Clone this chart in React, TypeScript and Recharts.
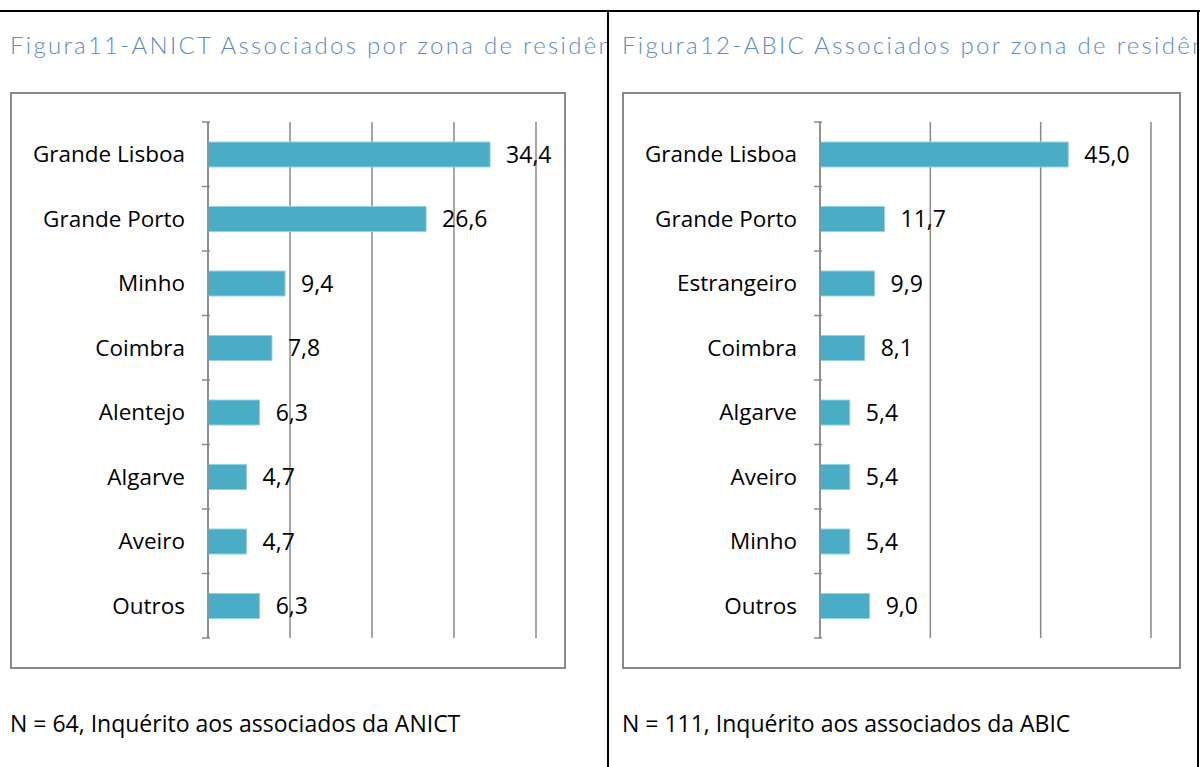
import { BarChart, Bar, XAxis, YAxis, CartesianGrid, LabelList } from 'recharts'

const leftCategories = ['Grande Lisboa', 'Grande Porto', 'Minho', 'Coimbra', 'Alentejo', 'Algarve', 'Aveiro', 'Outros']
const leftValues = [34.4, 26.6, 9.4, 7.8, 6.3, 4.7, 4.7, 6.3]
const leftTicks = [0, 10, 20, 30, 40]

const rightCategories = ['Grande Lisboa', 'Grande Porto', 'Estrangeiro', 'Coimbra', 'Algarve', 'Aveiro', 'Minho', 'Outros']
const rightValues = [45.0, 11.7, 9.9, 8.1, 5.4, 5.4, 5.4, 9.0]
const rightTicks = [0, 20, 40, 60]

const GRID = '#888888'
const BAR = '#4BACC6'
const TITLE = '#5b8ac6'
const FONT = '"Open Sans", "Noto Sans", sans-serif'
const TITLE_FONT = 'Lato, sans-serif'

const PLOT_TOP = 30
const PLOT_H = 516
const AXIS_W = 198

function makeTick(count: number) {
    const band = PLOT_H / count
    return function CategoryTick(props: any) {
        const { y, payload, index } = props
        return (
            <g>
                <line x1={AXIS_W - 8} x2={AXIS_W} y1={y - band / 2} y2={y - band / 2} stroke={GRID} strokeWidth={1.5} />
                {index === count - 1 && (
                    <line x1={AXIS_W - 8} x2={AXIS_W} y1={y + band / 2} y2={y + band / 2} stroke={GRID} strokeWidth={1.5} />
                )}
                <text x={AXIS_W - 25} y={y} dy={8} textAnchor="end" fill="#000" fontSize={22.5} fontFamily={FONT}>
                    {payload.value}
                </text>
            </g>
        )
    }
}

interface PanelProps {
    left: number
    title: string
    note: string
    categories: string[]
    values: number[]
    ticks: number[]
    boxWidth: number
    titleWidth: number
}

function Panel({ left, title, note, categories, values, ticks, boxWidth, titleWidth }: PanelProps) {
    const data = categories.map((name, i) => ({ name, value: values[i] }))
    const boxH = 577
    return (
        <>
            <div
                style={{
                    position: 'absolute', left, top: 30, width: titleWidth, overflow: 'hidden', whiteSpace: 'nowrap',
                    color: TITLE, fontSize: 24, letterSpacing: 2.3, fontFamily: TITLE_FONT, fontWeight: 300
                }}
            >
                {title}
            </div>
            <div
                style={{
                    position: 'absolute', left, top: 92, width: boxWidth, height: boxH,
                    border: '2px solid #888', boxSizing: 'border-box'
                }}
            >
                <BarChart
                    width={boxWidth - 4}
                    height={boxH - 4}
                    layout="vertical"
                    data={data}
                    margin={{ top: PLOT_TOP - 2, right: 28, bottom: boxH - 4 - PLOT_TOP + 2 - PLOT_H, left: -2 }}
                    barCategoryGap={0}
                >
                    <CartesianGrid horizontal={false} stroke={GRID} strokeWidth={1.5} />
                    <XAxis type="number" domain={[ticks[0], ticks[ticks.length - 1]]} ticks={ticks} hide />
                    <YAxis
                        type="category"
                        dataKey="name"
                        width={AXIS_W}
                        axisLine={{ stroke: GRID, strokeWidth: 1.5 }}
                        tickLine={false}
                        tick={makeTick(categories.length)}
                        interval={0}
                    />
                    <Bar dataKey="value" fill={BAR} stroke="#8fd3e3" strokeWidth={1} barSize={25} isAnimationActive={false}>
                        <LabelList
                            dataKey="value"
                            position="right"
                            offset={16}
                            fill="#000"
                            fontSize={23}
                            fontFamily={FONT}
                            formatter={(v: any) => Number(v).toFixed(1).replace('.', ',')}
                        />
                    </Bar>
                </BarChart>
            </div>
            <div style={{ position: 'absolute', left, top: 707, fontSize: 23, fontFamily: FONT, color: '#000', whiteSpace: 'nowrap' }}>
                {note}
            </div>
        </>
    )
}

export default function App() {
    return (
        <div style={{ position: 'absolute', left: 0, top: 0, width: 1200, height: 767, background: '#fff', overflow: 'hidden' }}>
            <div style={{ position: 'absolute', left: 0, top: 10, width: 1200, height: 2, background: '#000' }} />
            <div style={{ position: 'absolute', left: 607, top: 10, width: 2, height: 757, background: '#000' }} />
            <div style={{ position: 'absolute', left: 1197, top: 10, width: 2, height: 757, background: '#000' }} />
            <Panel
                left={10}
                title="Figura11-ANICT Associados por zona de residência"
                note="N = 64, Inquérito aos associados da ANICT"
                categories={leftCategories}
                values={leftValues}
                ticks={leftTicks}
                boxWidth={556}
                titleWidth={597}
            />
            <Panel
                left={622}
                title="Figura12-ABIC Associados por zona de residência"
                note="N = 111, Inquérito aos associados da ABIC"
                categories={rightCategories}
                values={rightValues}
                ticks={rightTicks}
                boxWidth={559}
                titleWidth={575}
            />
        </div>
    )
}
